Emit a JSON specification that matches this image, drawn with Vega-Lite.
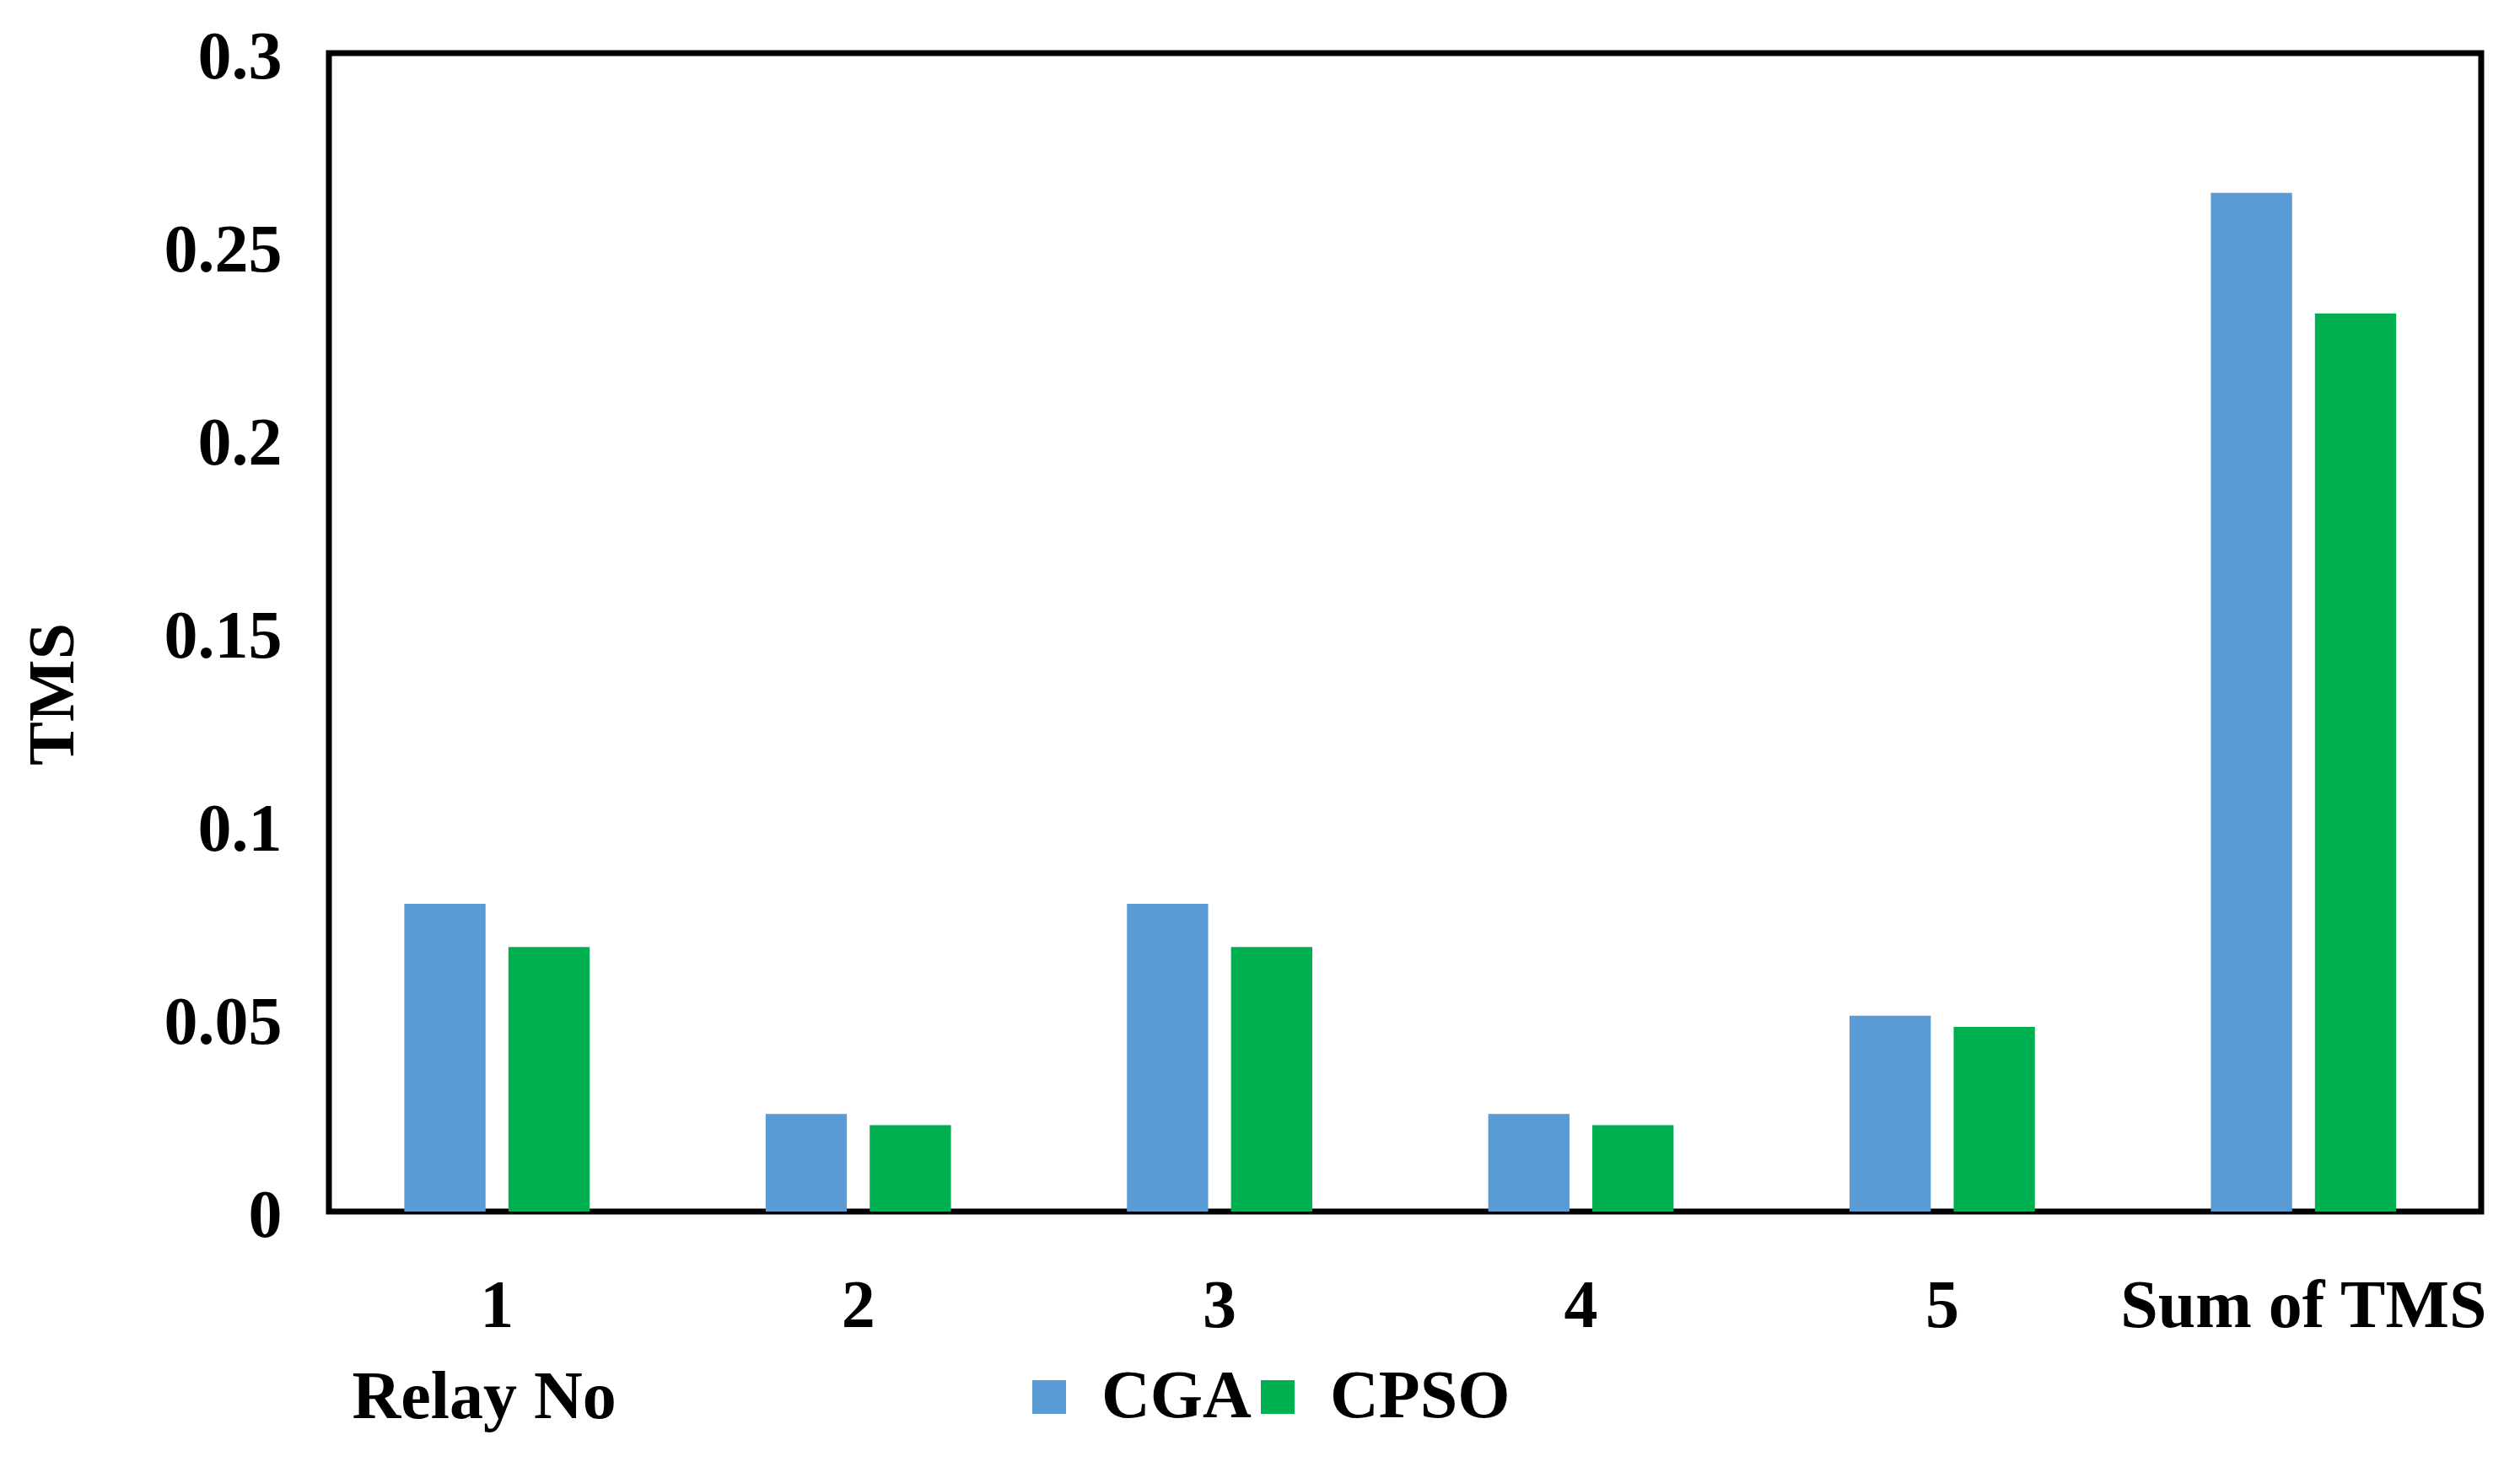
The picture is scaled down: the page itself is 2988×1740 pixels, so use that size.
{
  "$schema": "https://vega.github.io/schema/vega-lite/v6.json",
  "autosize": {"type": "none"},
  "padding": {"left": 390, "top": 63, "right": 46, "bottom": 303},
  "width": 2552,
  "height": 1374,
  "background": "white",
  "data": {
    "values": [
      {"relay": "1", "method": "CGA", "tms": 0.0797},
      {"relay": "1", "method": "CPSO", "tms": 0.0685},
      {"relay": "2", "method": "CGA", "tms": 0.0253},
      {"relay": "2", "method": "CPSO", "tms": 0.0224},
      {"relay": "3", "method": "CGA", "tms": 0.0797},
      {"relay": "3", "method": "CPSO", "tms": 0.0685},
      {"relay": "4", "method": "CGA", "tms": 0.0253},
      {"relay": "4", "method": "CPSO", "tms": 0.0224},
      {"relay": "5", "method": "CGA", "tms": 0.0507},
      {"relay": "5", "method": "CPSO", "tms": 0.0478},
      {"relay": "Sum of TMS", "method": "CGA", "tms": 0.2638},
      {"relay": "Sum of TMS", "method": "CPSO", "tms": 0.2326}
    ]
  },
  "mark": {"type": "bar", "strokeWidth": 0},
  "encoding": {
    "x": {
      "field": "relay",
      "type": "nominal",
      "sort": null,
      "scale": {"paddingInner": 0.487, "paddingOuter": 0.222, "align": 0.47},
      "axis": {
        "title": "Relay No",
        "titleX": 27,
        "titleY": 244,
        "titleAlign": "left",
        "titleBaseline": "alphabetic",
        "labelAngle": 0,
        "labelPadding": 73,
        "labelLimit": 0,
        "ticks": false,
        "domain": false
      }
    },
    "xOffset": {
      "field": "method",
      "type": "nominal",
      "sort": ["CGA", "CPSO"],
      "scale": {"paddingInner": 0.2195, "paddingOuter": 0}
    },
    "y": {
      "field": "tms",
      "type": "quantitative",
      "scale": {"domain": [0, 0.3], "nice": false},
      "axis": {
        "title": "TMS",
        "titleX": -327,
        "titleY": 760,
        "titleAngle": -90,
        "titleAlign": "center",
        "titleBaseline": "middle",
        "titleFontSize": 78,
        "values": [0, 0.05, 0.1, 0.15, 0.2, 0.25, 0.3],
        "format": "~g",
        "labelPadding": 56,
        "labelOffset": 5,
        "ticks": false,
        "domain": false,
        "grid": false
      }
    },
    "color": {
      "field": "method",
      "type": "nominal",
      "scale": {"domain": ["CGA", "CPSO"], "range": ["#5B9BD5", "#00B050"]},
      "legend": {
        "title": null,
        "orient": "none",
        "direction": "horizontal",
        "legendX": 814,
        "legendY": 1554,
        "padding": 0,
        "symbolType": "square",
        "symbolSize": 1600,
        "symbolStrokeWidth": 0,
        "symbolOpacity": 1,
        "labelOffset": 22,
        "columnPadding": -9,
        "gridAlign": "none"
      }
    }
  },
  "config": {
    "font": "Liberation Serif",
    "view": {"stroke": "black", "strokeWidth": 7},
    "axis": {
      "labelFont": "Liberation Serif",
      "labelFontSize": 80,
      "labelFontWeight": "bold",
      "labelColor": "black",
      "titleFont": "Liberation Serif",
      "titleFontSize": 80,
      "titleFontWeight": "bold",
      "titleColor": "black"
    },
    "legend": {
      "labelFont": "Liberation Serif",
      "labelFontSize": 80,
      "labelFontWeight": "bold",
      "labelColor": "black",
      "labelLimit": 0
    }
  }
}
